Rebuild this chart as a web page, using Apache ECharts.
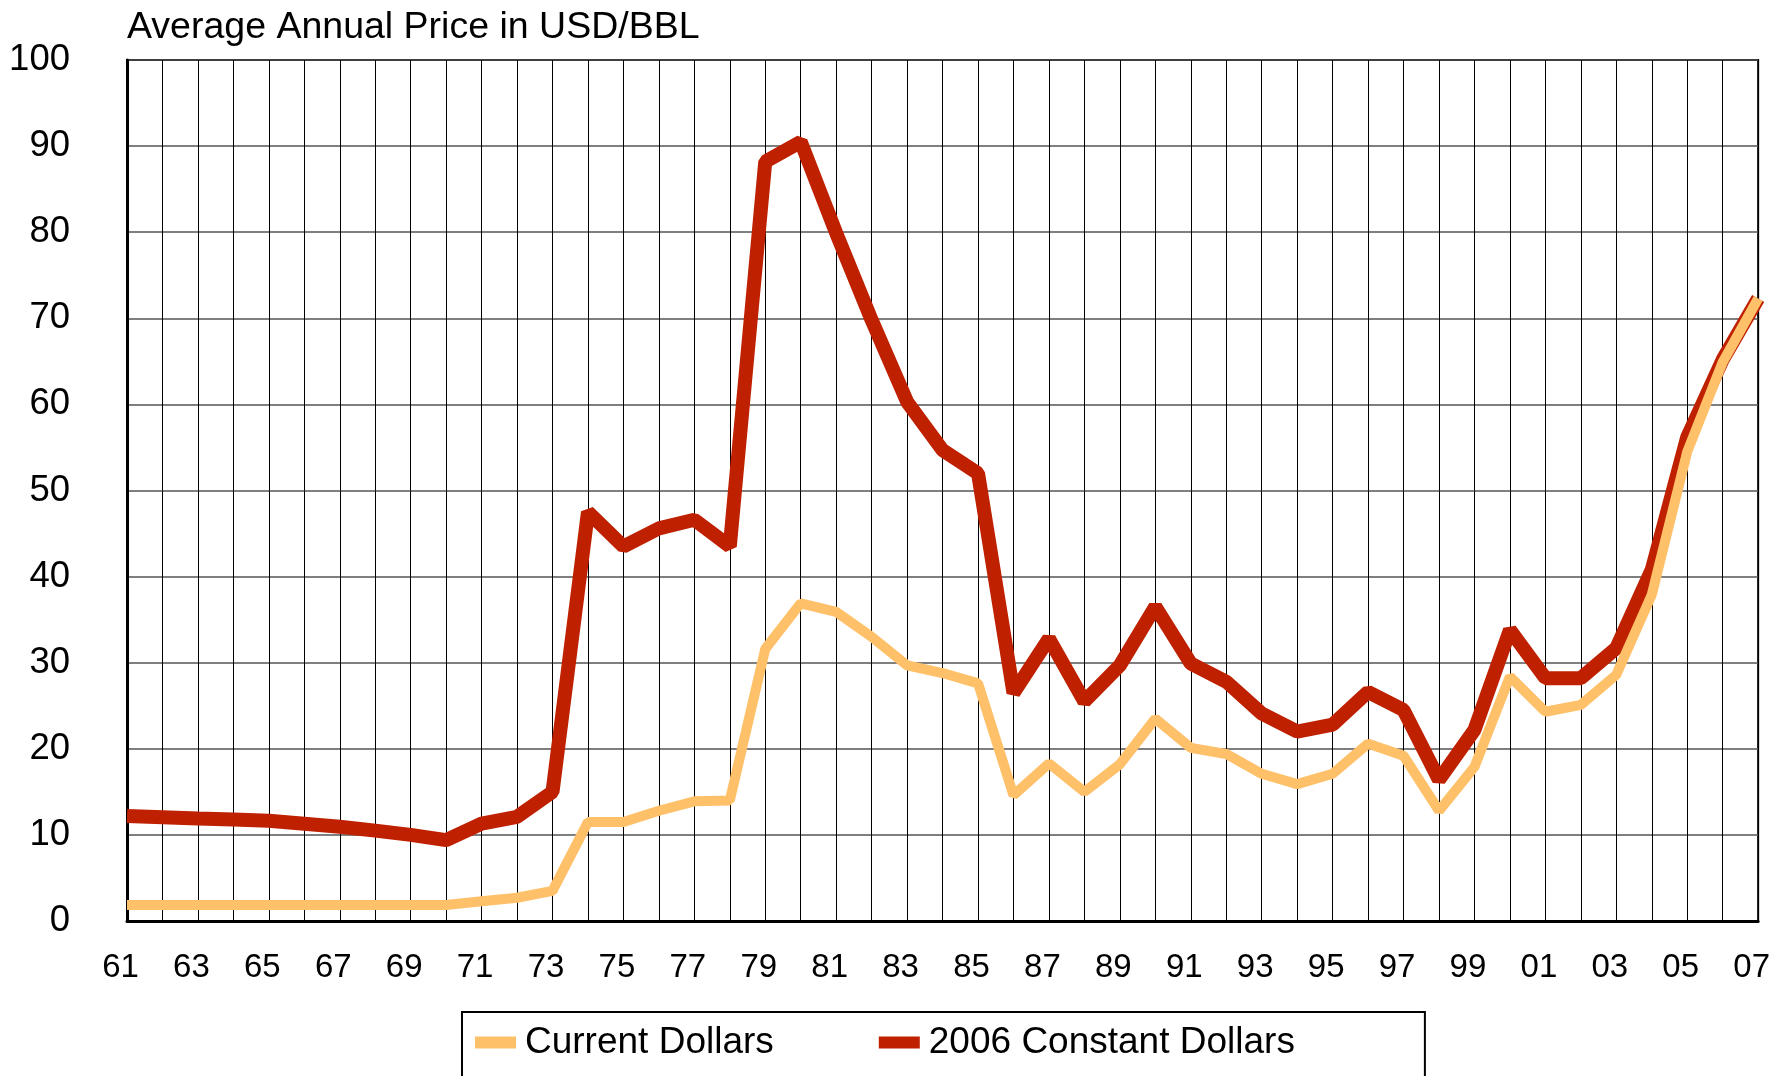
<!DOCTYPE html>
<html>
<head>
<meta charset="utf-8">
<script src="https://cdn.jsdelivr.net/npm/echarts@6/dist/echarts.min.js"></script>
<style>
  html, body { margin: 0; padding: 0; background: #fff; }
  #myChart { width: 1773px; height: 1076px; }
</style>
</head>
<body>
<div id="myChart"></div>
<script>
var years = ['61', '62', '63', '64', '65', '66', '67', '68', '69', '70',
  '71', '72', '73', '74', '75', '76', '77', '78', '79', '80',
  '81', '82', '83', '84', '85', '86', '87', '88', '89', '90',
  '91', '92', '93', '94', '95', '96', '97', '98', '99', '00',
  '01', '02', '03', '04', '05', '06', '07']

// current dollars
var currentDollars = [1.85, 1.85, 1.85, 1.85, 1.85, 1.85, 1.85, 1.85, 1.85, 1.85,
  2.3, 2.7, 3.5, 11.5, 11.5, 12.8, 13.9, 14.0, 31.6, 36.9,
  35.9, 33.0, 29.7, 28.8, 27.6, 14.6, 18.3, 15.0, 18.2, 23.5,
  20.1, 19.4, 17.1, 15.9, 17.1, 20.6, 19.2, 12.8, 17.9, 28.4,
  24.3, 25.1, 28.6, 37.9, 54.5, 64.9, 72.3]

// 2006 constant dollars
var constantDollars = [12.2, 12.05, 11.9, 11.8, 11.65, 11.3, 10.95, 10.5, 10.0, 9.4,
  11.3, 12.1, 15.0, 47.5, 43.5, 45.6, 46.6, 43.5, 88.2, 90.5,
  79.9, 69.8, 60.3, 54.7, 52.0, 26.5, 32.8, 25.5, 29.7, 36.5,
  29.9, 27.8, 24.1, 22.0, 22.8, 26.6, 24.5, 16.4, 22.2, 33.8,
  28.2, 28.2, 31.7, 40.8, 56.2, 65.2, 72.3]

var seriesNames = ['Current Dollars', '2006 Constant Dollars']
var yTicks = { min: 0, max: 100, interval: 10 }

var font = "'Liberation Sans', Arial, sans-serif"
var myChart = echarts.init(document.getElementById('myChart'))

var option = {
  backgroundColor: '#fff',
  animation: false,
  title: {
    text: 'Average Annual Price in USD/BBL',
    left: 127,
    top: 9,
    padding: 0,
    textStyle: { color: '#000', fontSize: 37.5, fontWeight: 'normal', fontFamily: font }
  },
  legend: {
    data: seriesNames,
    left: 462,
    top: 1012,
    padding: [12, 130, 40, 13],
    borderColor: '#000',
    borderWidth: 2,
    icon: 'rect',
    itemWidth: 41,
    itemHeight: 12,
    itemGap: 105,
    textStyle: { color: '#000', fontSize: 37, fontFamily: font, padding: [0, 0, 0, 4] }
  },
  grid: {
    left: 127,
    right: 14,
    top: 60,
    bottom: 155,
    show: true,
    borderColor: '#000',
    borderWidth: 2
  },
  xAxis: {
    type: 'category',
    data: years,
    boundaryGap: false,
    axisLine: { lineStyle: { color: '#000', width: 3 } },
    axisTick: { show: false },
    axisLabel: {
      interval: 1,
      margin: 30,
      color: '#000',
      fontSize: 33,
      fontFamily: font,
      padding: [0, 13, 0, 0]
    },
    splitLine: { show: true, interval: 0, lineStyle: { color: '#000', width: 1 } }
  },
  yAxis: {
    type: 'value',
    min: yTicks.min,
    max: yTicks.max,
    interval: yTicks.interval,
    axisLine: { show: true, lineStyle: { color: '#000', width: 3 } },
    axisTick: { show: false },
    axisLabel: {
      margin: 57,
      color: '#000',
      fontSize: 36.5,
      fontFamily: font,
      padding: [0, 0, 10, 0]
    },
    splitLine: { show: true, lineStyle: { color: '#555', width: 1.5 } }
  },
  series: [
    {
      name: seriesNames[0],
      type: 'line',
      data: currentDollars,
      showSymbol: false,
      z: 4,
      color: '#FFC06A',
      lineStyle: { color: '#FFC06A', width: 10 }
    },
    {
      name: seriesNames[1],
      type: 'line',
      data: constantDollars,
      showSymbol: false,
      z: 3,
      color: '#BE2000',
      lineStyle: { color: '#BE2000', width: 14 }
    }
  ]
}

myChart.setOption(option)
</script>
</body>
</html>
